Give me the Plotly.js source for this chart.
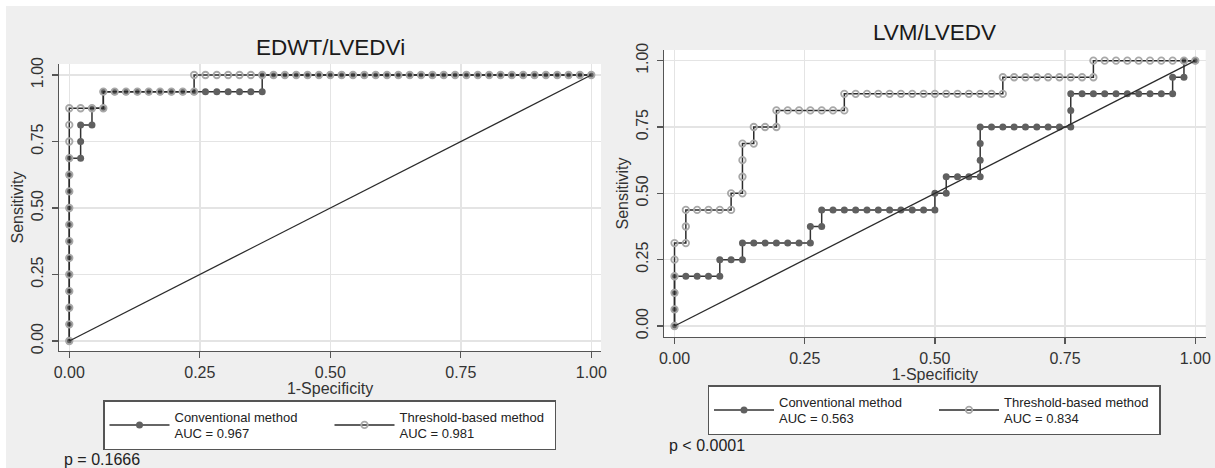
<!DOCTYPE html>
<html><head><meta charset="utf-8">
<script src="https://cdn.plot.ly/plotly-3.0.1.min.js"></script>
<style>html,body{margin:0;padding:0;background:#fff}#chart{width:1215px;height:468px}</style>
</head><body><div id="chart"></div><script>
// ---- data ----
const NEG = 46, POS = 16; // counts of negatives / positives (axis denominators)
const panelTitles = ['EDWT/LVEDVi', 'LVM/LVEDV'];
const methodNames = ['Conventional method', 'Threshold-based method'];
const aucLeft = ['0.967', '0.981'];
const aucRight = ['0.563', '0.834'];
const pTexts = ['p = 0.1666', 'p < 0.0001'];
const tickVals = [0, 0.25, 0.5, 0.75, 1];
const tickLabels = ['0.00', '0.25', '0.50', '0.75', '1.00'];
const refX = [0, 1], refY = [0, 1];

// EDWT/LVEDVi - conventional (false-positive count, true-positive count)
const edwtConvFP = [0,0,0,0,0,0,0,0,0,0,0,0, 1,1,1, 2,2, 3,3, 4,5,6,7,8,9,10,11,12,13,14,15,16,17, 17,18,19,20,21,22,23,24,25,26,27,28,29,30,31,32,33,34,35,36,37,38,39,40,41,42,43,44,45,46];
const edwtConvTP = [0,1,2,3,4,5,6,7,8,9,10,11, 11,12,13, 13,14, 14,15, 15,15,15,15,15,15,15,15,15,15,15,15,15,15, 16,16,16,16,16,16,16,16,16,16,16,16,16,16,16,16,16,16,16,16,16,16,16,16,16,16,16,16,16,16];
// EDWT/LVEDVi - threshold-based
const edwtThrFP = [0,0,0,0,0,0,0,0,0,0,0,0,0,0,0, 1,2,3, 3, 4,5,6,7,8,9,10,11, 11,12,13,14,15,16,17,18,19,20,21,22,23,24,25,26,27,28,29,30,31,32,33,34,35,36,37,38,39,40,41,42,43,44,45,46];
const edwtThrTP = [0,1,2,3,4,5,6,7,8,9,10,11,12,13,14, 14,14,14, 15, 15,15,15,15,15,15,15,15, 16,16,16,16,16,16,16,16,16,16,16,16,16,16,16,16,16,16,16,16,16,16,16,16,16,16,16,16,16,16,16,16,16,16,16,16];
// LVM/LVEDV - conventional
const lvmConvFP = [0,0,0,0, 1,2,3,4, 4,5,6, 6,7,8,9,10,11,12, 12,13, 13,14,15,16,17,18,19,20,21,22,23, 23,24, 24,25,26,27, 27,27,27, 28,29,30,31,32,33,34,35, 35,35, 36,37,38,39,40,41,42,43,44, 44,45, 45,46];
const lvmConvTP = [0,1,2,3, 3,3,3,3, 4,4,4, 5,5,5,5,5,5,5, 6,6, 7,7,7,7,7,7,7,7,7,7,7, 8,8, 9,9,9,9, 10,11,12, 12,12,12,12,12,12,12,12, 13,14, 14,14,14,14,14,14,14,14,14, 15,15, 16,16];
// LVM/LVEDV - threshold-based
const lvmThrFP = [0,0,0,0,0,0, 1,1,1, 2,3,4,5, 5,6, 6,6,6, 7,7, 8,9, 9,10,11,12,13,14,15, 15,16,17,18,19,20,21,22,23,24,25,26,27,28,29, 29,30,31,32,33,34,35,36,37, 37,38,39,40,41,42,43,44,45,46];
const lvmThrTP = [0,1,2,3,4,5, 5,6,7, 7,7,7,7, 8,8, 9,10,11, 11,12, 12,12, 13,13,13,13,13,13,13, 14,14,14,14,14,14,14,14,14,14,14,14,14,14,14, 15,15,15,15,15,15,15,15,15, 16,16,16,16,16,16,16,16,16,16];

// ---- styling ----
const FONT = 'Liberation Sans, Arial, Helvetica, sans-serif';
const W = 1215, H = 468;
const convStyle = {line: {color: '#333333', width: 1.5}, marker: {symbol: 'circle', size: 7, color: '#606060'}};
const thrStyle = {line: {color: '#2a2a2a', width: 1.5}, marker: {symbol: 'circle-open', size: 6.5, color: '#a8a8a8', line: {width: 1.8, color: '#a8a8a8'}}};

function rocTrace(fp, tp, name, auc, style, xa, ya, lg) {
  return {
    type: 'scatter', mode: 'lines+markers',
    x: fp.map(v => v / NEG), y: tp.map(v => v / POS),
    name: name + '<br>AUC = ' + auc,
    xaxis: xa, yaxis: ya, legend: lg,
    line: style.line, marker: style.marker, hoverinfo: 'skip'
  };
}
function refTrace(xa, ya) {
  return {type: 'scatter', mode: 'lines', x: refX, y: refY, xaxis: xa, yaxis: ya,
    line: {color: '#2b2b2b', width: 1.3}, showlegend: false, hoverinfo: 'skip'};
}

const data = [
  rocTrace(edwtConvFP, edwtConvTP, methodNames[0], aucLeft[0], convStyle, 'x', 'y', 'legend'),
  rocTrace(edwtThrFP, edwtThrTP, methodNames[1], aucLeft[1], thrStyle, 'x', 'y', 'legend'),
  refTrace('x', 'y'),
  rocTrace(lvmConvFP, lvmConvTP, methodNames[0], aucRight[0], convStyle, 'x2', 'y2', 'legend2'),
  rocTrace(lvmThrFP, lvmThrTP, methodNames[1], aucRight[1], thrStyle, 'x2', 'y2', 'legend2'),
  refTrace('x2', 'y2')
];

function baseAxis() {
  return {
    tickvals: tickVals, ticktext: tickLabels,
    ticks: 'outside', ticklen: 6, tickwidth: 1.3, tickcolor: '#555',
    showline: true, linecolor: '#555', linewidth: 1.3,
    showgrid: true, gridcolor: '#e4e4e4', gridwidth: 1.5, zeroline: false,
    tickfont: {family: FONT, size: 16, color: '#333'}, fixedrange: true, automargin: false
  };
}
function xAxis(px0, px1, range, anchor) {
  return Object.assign(baseAxis(), {
    domain: [px0 / W, px1 / W], range: range, anchor: anchor,
    title: {text: '1-Specificity', font: {family: FONT, size: 16, color: '#333'}, standoff: 1}
  });
}
function yAxis(pyTop, pyBottom, range, anchor) {
  return Object.assign(baseAxis(), {
    domain: [1 - pyBottom / H, 1 - pyTop / H], range: range, anchor: anchor, tickangle: -90,
    ticklabelstandoff: 2,
    title: {text: 'Sensitivity', font: {family: FONT, size: 16, color: '#333'}, standoff: 1}
  });
}
function legendAt(px, py) {
  return {
    x: px / W, y: 1 - py / H, xanchor: 'left', yanchor: 'top', orientation: 'h',
    bgcolor: '#ffffff', bordercolor: '#555', borderwidth: 1.5,
    font: {family: FONT, size: 13, color: '#222'},
    itemwidth: 60, entrywidth: 150, entrywidthmode: 'pixels', traceorder: 'normal'
  };
}

const layout = {
  width: W, height: H, margin: {l: 0, r: 0, t: 0, b: 0, autoexpand: false},
  paper_bgcolor: '#efefef', plot_bgcolor: '#ffffff',
  font: {family: FONT, color: '#222'},
  xaxis: xAxis(59, 601, [-0.0197, 1.0186], 'y'),
  yaxis: yAxis(64, 351, [-0.0376, 1.0414], 'x'),
  xaxis2: xAxis(664, 1205.7, [-0.0202, 1.02], 'y2'),
  yaxis2: yAxis(50, 337, [-0.0415, 1.0403], 'x2'),
  legend: legendAt(103, 400),
  legend2: legendAt(707.5, 385),
  shapes: [
    {type: 'rect', xref: 'paper', yref: 'paper', x0: 0, x1: 1, y0: 1 - 6 / H, y1: 1, fillcolor: '#ffffff', line: {width: 0}, layer: 'below'},
    {type: 'rect', xref: 'paper', yref: 'paper', x0: 0, x1: 6 / W, y0: 0, y1: 1, fillcolor: '#ffffff', line: {width: 0}, layer: 'below'}
  ],
  annotations: [
    {text: panelTitles[0], xref: 'paper', yref: 'paper', x: 330 / W, y: 1 - 48 / H, xanchor: 'center', yanchor: 'middle', showarrow: false, font: {family: FONT, size: 22.5, color: '#1a1a1a'}},
    {text: panelTitles[1], xref: 'paper', yref: 'paper', x: 934.7 / W, y: 1 - 33 / H, xanchor: 'center', yanchor: 'middle', showarrow: false, font: {family: FONT, size: 22.5, color: '#1a1a1a'}},
    {text: pTexts[0], xref: 'paper', yref: 'paper', x: 62 / W, y: 1 - 459 / H, xanchor: 'left', yanchor: 'middle', showarrow: false, font: {family: FONT, size: 16, color: '#222'}},
    {text: pTexts[1], xref: 'paper', yref: 'paper', x: 667 / W, y: 1 - 445 / H, xanchor: 'left', yanchor: 'middle', showarrow: false, font: {family: FONT, size: 16, color: '#222'}}
  ]
};

Plotly.newPlot('chart', data, layout, {displayModeBar: false, staticPlot: true});
</script></body></html>
